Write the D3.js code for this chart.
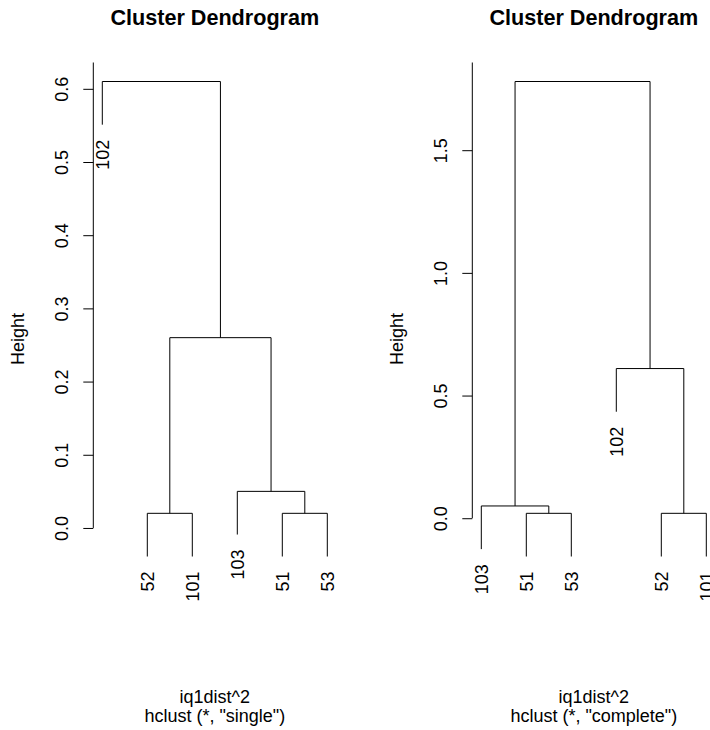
<!DOCTYPE html>
<html>
<head>
<meta charset="utf-8">
<script src="https://cdn.jsdelivr.net/npm/d3@7"></script>
<style>
	body { margin: 0; background: #fff; }
	svg { display: block; font-family: "Liberation Sans", Arial, Helvetica, sans-serif; }
</style>
</head>
<body>
<div id="chart"></div>
<script>

// leaf names, as in the distance matrix
const leafNames = ["51", "52", "53", "101", "102", "103"];

// merge steps (R style: negative = leaf index, positive = earlier step)
const singleMerge = [[-2, -4], [-1, -3], [-6, 2], [1, 3], [-5, 4]];
const singleHeight = [0.02, 0.02, 0.05, 0.26, 0.61];

const completeMerge = [[-1, -3], [-2, -4], [-6, 1], [-5, 2], [3, 4]];
const completeHeight = [0.02, 0.02, 0.05, 0.61, 1.78];

const singleTicks = [0, 0.1, 0.2, 0.3, 0.4, 0.5, 0.6];
const completeTicks = [0, 0.5, 1.0, 1.5];

const panels = [
	{merge: singleMerge, height: singleHeight, ticks: singleTicks, method: "single", left: 93.3},
	{merge: completeMerge, height: completeHeight, ticks: completeTicks, method: "complete", left: 472.3}
];

const W = 710, H = 730;
const plotTop = 62.5, plotBottom = 575.5, plotW = 243;
const font = 18;

const svg = d3.select("#chart").append("svg")
	.attr("width", W)
	.attr("height", H);

svg.append("rect").attr("width", W).attr("height", H).attr("fill", "#fff");

function buildTree(merge, height){
	const steps = [];
	const node = v => v < 0 ? {name: leafNames[-v - 1], h: 0} : steps[v - 1];
	merge.forEach((m, i) => {
		steps.push({h: height[i], children: [node(m[0]), node(m[1])]});
	});
	return d3.hierarchy(steps[steps.length - 1]);
}

panels.forEach(p => {
	const root = buildTree(p.merge, p.height);
	const leaves = root.leaves();
	const maxH = d3.max(p.height), minH = d3.min(p.height);
	const hang = 0.1 * (maxH - minH);

	// leaf order and x positions
	leaves.forEach((d, i) => d.pos = i + 1);
	root.eachAfter(d => {
		if (d.children) d.pos = d3.mean(d.children, c => c.pos);
	});
	leaves.forEach(d => d.bottom = d.parent.data.h - hang);

	const lo = d3.min(leaves, d => d.bottom);
	const ext = 0.04 * (maxH - lo);
	const n = leaves.length;

	const x = d3.scaleLinear()
		.domain([1 - 0.04 * (n - 1), n + 0.04 * (n - 1)])
		.range([p.left, p.left + plotW]);
	const y = d3.scaleLinear()
		.domain([lo - ext, maxH + ext])
		.range([plotBottom, plotTop]);

	const g = svg.append("g");
	const cx = p.left + plotW / 2;

	// title
	g.append("text")
		.attr("x", cx).attr("y", 25)
		.attr("text-anchor", "middle")
		.style("font-size", "21.6px")
		.style("font-weight", "bold")
		.text("Cluster Dendrogram");

	// sub titles
	g.append("text")
		.attr("x", cx).attr("y", 703)
		.attr("text-anchor", "middle")
		.style("font-size", font + "px")
		.text("iq1dist^2");
	g.append("text")
		.attr("x", cx).attr("y", 722)
		.attr("text-anchor", "middle")
		.style("font-size", font + "px")
		.text(`hclust (*, "${p.method}")`);

	// y axis
	const axis = g.append("g")
		.attr("transform", `translate(${p.left},0)`)
		.call(d3.axisLeft(y).tickValues(p.ticks).tickSize(10).tickFormat(d3.format(".1f")));
	axis.select(".domain").remove();
	axis.selectAll(".tick line").attr("stroke", "#000");
	axis.selectAll(".tick text")
		.attr("x", null).attr("dy", null)
		.attr("transform", "translate(-24.9,0) rotate(-90)")
		.attr("text-anchor", "middle")
		.attr("fill", "#000")
		.style("font-size", font + "px")
		.style("font-family", "inherit");
	axis.append("line")
		.attr("y1", y(0)).attr("y2", plotTop)
		.attr("stroke", "#000");

	g.append("text")
		.attr("transform", `translate(${p.left - 69.3},339) rotate(-90)`)
		.attr("text-anchor", "middle")
		.style("font-size", font + "px")
		.text("Height");

	// branches
	const bot = d => d.children ? y(d.data.h) : y(d.bottom);
	g.selectAll(".branch")
		.data(root.descendants().filter(d => d.children))
		.join("path")
		.attr("class", "branch")
		.attr("fill", "none")
		.attr("stroke", "#000")
		.attr("d", d => {
			const [a, b] = d.children;
			return `M${x(a.pos)},${bot(a)}V${y(d.data.h)}H${x(b.pos)}V${bot(b)}`;
		});

	// leaf labels
	g.selectAll(".leaf")
		.data(leaves)
		.join("text")
		.attr("class", "leaf")
		.attr("transform", d => `translate(${x(d.pos) + 6.4},${y(d.bottom) + 15}) rotate(-90)`)
		.attr("text-anchor", "end")
		.style("font-size", font + "px")
		.text(d => d.data.name);
});

</script>
</body>
</html>
